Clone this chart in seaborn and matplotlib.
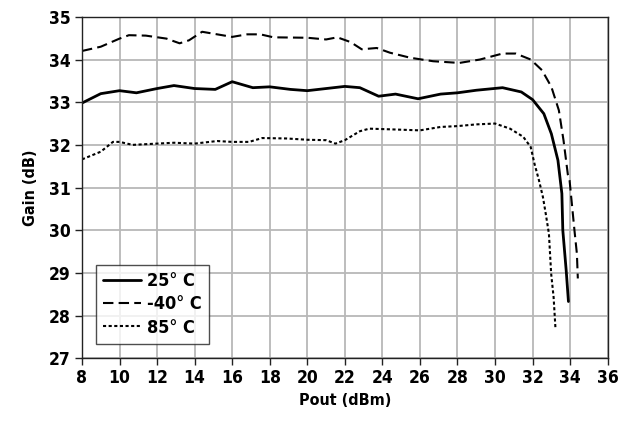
import numpy as np
import pandas as pd
import matplotlib
matplotlib.use("Agg")
import matplotlib.pyplot as plt
import seaborn as sns

# data
x_25 = [8, 9, 10, 10.9, 12, 12.9, 14, 15.1, 16, 17.1, 18, 19.1, 20, 21, 22, 22.8,
        23.8, 24.7, 25.9, 27.1, 28, 29, 30.4, 31.4, 32, 32.6, 33.0, 33.35, 33.56,
        33.61, 33.79, 33.91]
g_25 = [32.98, 33.2, 33.27, 33.22, 33.32, 33.39, 33.32, 33.3, 33.48, 33.34, 33.36,
        33.3, 33.27, 33.32, 33.37, 33.34, 33.14, 33.19, 33.08, 33.19, 33.22, 33.28,
        33.34, 33.24, 33.06, 32.73, 32.26, 31.64, 30.86, 30.0, 29.06, 28.33]

x_m40 = [8, 9, 10, 10.5, 11.4, 12.5, 13.2, 13.7, 14.4, 15.2, 16, 16.8, 17.5, 18.2,
         20, 21, 21.6, 22.3, 22.9, 23.7, 24.4, 25.5, 26.7, 28.1, 29.2, 30.4, 31.1,
         31.9, 32.5, 33.0, 33.4, 33.65, 33.88, 33.97, 34.23, 34.36, 34.41]
g_m40 = [34.2, 34.3, 34.49, 34.57, 34.56, 34.49, 34.38, 34.45, 34.65, 34.59, 34.53,
         34.59, 34.59, 34.52, 34.51, 34.47, 34.52, 34.41, 34.24, 34.27, 34.16, 34.04,
         33.96, 33.92, 34.0, 34.14, 34.14, 34.0, 33.75, 33.36, 32.81, 32.1, 31.3,
         31.17, 30.0, 29.45, 28.87]

x_85 = [8, 9, 9.65, 10, 10.7, 12, 12.9, 14, 15.2, 16, 16.9, 17.6, 18.9, 20, 21,
        21.5, 22, 22.8, 23.3, 24.7, 26, 27.1, 28, 29, 30, 30.8, 31.5, 31.9, 32.1,
        32.34, 32.55, 32.7, 32.87, 32.99, 33.12, 33.22]
g_85 = [31.66, 31.84, 32.07, 32.07, 32.0, 32.03, 32.05, 32.03, 32.09, 32.07, 32.07,
        32.16, 32.15, 32.12, 32.11, 32.03, 32.11, 32.32, 32.38, 32.36, 32.34, 32.42,
        32.44, 32.48, 32.5, 32.38, 32.19, 31.95, 31.56, 31.17, 30.78, 30.39, 29.92,
        28.98, 28.43, 27.69]

labels = ["25° C", "-40° C", "85° C"]
x_ticks = list(range(8, 37, 2))
y_ticks = list(range(27, 36))

sns.set_style("white")
plt.rcParams["font.family"] = ["DejaVu Sans"]
plt.rcParams["font.stretch"] = "condensed"
plt.rcParams["font.weight"] = "bold"
plt.rcParams["text.color"] = "black"
plt.rcParams["axes.labelcolor"] = "black"
plt.rcParams["xtick.color"] = "black"
plt.rcParams["ytick.color"] = "black"

fig, ax = plt.subplots(figsize=(6.33, 4.21), dpi=100)
fig.subplots_adjust(left=0.1295, right=0.960, bottom=0.149, top=0.960)

series = [(x_25, g_25, "-", 2.0), (x_m40, g_m40, (0, (5, 2.5)), 1.5),
          (x_85, g_85, (0, (1.5, 1.2)), 1.5)]
for (xs, ys, ls, lw), lab in zip(series, labels):
    df = pd.DataFrame({"x": xs, "y": ys})
    sns.lineplot(data=df, x="x", y="y", ax=ax, color="black", linestyle=ls,
                 linewidth=lw, label=lab, sort=False)

ax.set_xlim(8, 36)
ax.set_ylim(27, 35)
ax.set_xticks(x_ticks)
ax.set_yticks(y_ticks)
ax.grid(True, color="#b8b8b8", linewidth=1.3)
ax.set_axisbelow(True)
for s in ax.spines.values():
    s.set_color("#222222")
    s.set_linewidth(1.0)
ax.tick_params(axis="both", direction="out", length=5, width=1, color="#222222",
               labelsize=12.5, pad=3, bottom=True, left=True)
for t in ax.get_xticklabels() + ax.get_yticklabels():
    t.set_fontweight("bold")
ax.set_xlabel("Pout (dBm)", fontsize=11.5, fontweight="bold", labelpad=4)
ax.set_ylabel("Gain (dB)", fontsize=11.5, fontweight="bold", labelpad=8)

leg = ax.legend(loc="lower left", bbox_to_anchor=(0.027, 0.042), frameon=True,
                fancybox=False, edgecolor="#222222", borderaxespad=0,
                handlelength=2.1, handletextpad=0.3, borderpad=0.4,
                labelspacing=0.3, prop={"weight": "bold", "size": 13,
                                        "stretch": "condensed"})
leg.get_frame().set_linewidth(1.0)

fig.savefig("out.png", dpi=100)
